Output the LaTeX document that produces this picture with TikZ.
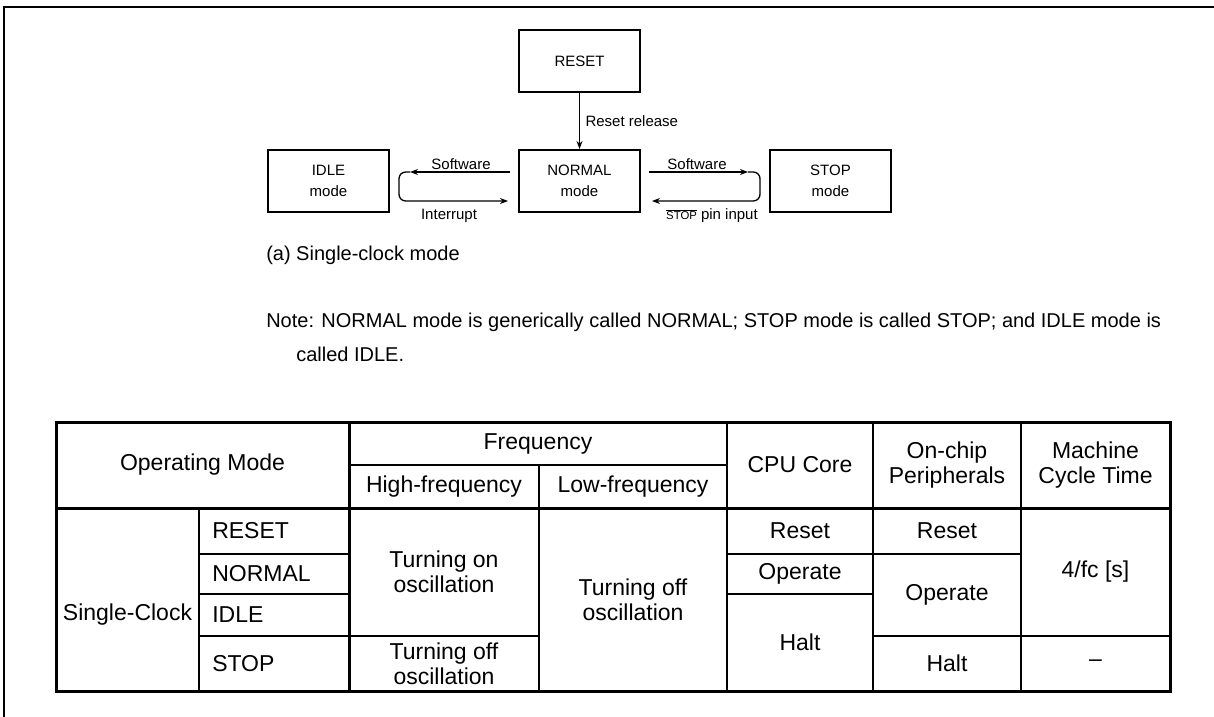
\documentclass[tikz,border=0pt]{standalone}
\usepackage{fontspec}
\setmainfont{Liberation Sans}
\usetikzlibrary{arrows.meta}
\begin{document}
\begin{tikzpicture}[x=0.75pt,y=-0.75pt,
  modebox/.style={draw,line width=1.5pt,minimum width=90.75pt,minimum height=46.5pt,inner sep=0pt,align=center,font=\fontsize{11.25}{15.4}\selectfont},
  lbl/.style={inner sep=0pt,font=\fontsize{11.25}{13}\selectfont},
  arr/.style={line width=1pt,-{Stealth[length=6pt,width=4.5pt]}},
  notetxt/.style={inner sep=0pt,anchor=west,font=\fontsize{15}{18}\selectfont},
  cell/.style={inner sep=0pt,align=center,font=\fontsize{17.25}{18.75}\selectfont},
  thin/.style={line width=0.9pt},
  thick/.style={line width=2.25pt}]
\useasboundingbox (0,0) rectangle (1214,717);
% frame
\draw[line width=1.5pt] (4,717) -- (4,7) -- (1214,7);
% diagram boxes
\node[modebox] (reset) at (579.5,61) {RESET};
\node[modebox] (normal) at (579.5,181) {NORMAL\\mode};
\node[modebox] (idle) at (328.5,181) {IDLE\\mode};
\node[modebox] (stop) at (830.5,181) {STOP\\mode};
% reset release
\draw[arr] (reset.south) -- (normal.north) node[lbl,pos=0.5,anchor=west,xshift=4pt] (rrel) {Reset release};
% left loop
\coordinate (la) at (510,172);
\coordinate (lb) at (410,172);
\coordinate (lc) at (399,172);
\coordinate (ld) at (399,201);
\coordinate (le) at (508,201);
\draw[arr] (la) -- (lb);
\draw[arr,rounded corners=5pt] (lb) -- (lc) -- (ld) -- (le);
\node[lbl] (sw1) at (461,164) {Software};
\node[lbl] (intr) at (449,216) {Interrupt};
% right loop
\coordinate (ra) at (649,172);
\coordinate (rb) at (748,172);
\coordinate (rc) at (760,172);
\coordinate (rd) at (760,201);
\coordinate (re) at (652,201);
\draw[arr] (ra) -- (rb);
\draw[arr,rounded corners=5pt] (rb) -- (rc) -- (rd) -- (re);
\node[lbl] (sw2) at (697,164) {Software};
\node[lbl] (stpin) at (712,216) {$\overline{\hbox{\fontsize{8.5}{10}\selectfont STOP}}$ pin input};
% notes
\node[notetxt] (cap) at (266,255) {(a) Single-clock mode};
\node[notetxt] (note1) at (266,322) {Note: NORMAL mode is generically called NORMAL; STOP mode is called STOP; and IDLE mode is};
\node[notetxt] (note2) at (296,354) {called IDLE.};
% table thin lines
\draw[thin] (349,465) -- (727,465);
\draw[thin] (539,465) -- (539,691);
\draw[thin] (727,422) -- (727,691);
\draw[thin] (873,422) -- (873,691);
\draw[thin] (1021,422) -- (1021,691);
\draw[thin] (199,508) -- (199,691);
\draw[thin] (199,554) -- (349,554);
\draw[thin] (727,554) -- (1021,554);
\draw[thin] (199,594) -- (349,594);
\draw[thin] (727,594) -- (873,594);
\draw[thin] (199,636) -- (539,636);
\draw[thin] (873,636) -- (1170,636);
% table thick lines
\draw[thick] (56,508) -- (1170,508);
\draw[thick] (349,422) -- (349,691);
\draw[thick] (56,422) rectangle (1170,691);
% header
\node[cell] (hop) at (202.5,465) {Operating Mode};
\node[cell] (hfr) at (538,443.5) {Frequency};
\node[cell] (hhf) at (444,486.5) {High-frequency};
\node[cell] (hlf) at (633,486.5) {Low-frequency};
\node[cell] (hcpu) at (800,465) {CPU Core};
\node[cell] (hper) at (947,465) {On-chip\\Peripherals};
\node[cell] (hmct) at (1095.5,465) {Machine\\Cycle Time};
% body
\node[cell] (sc) at (127.5,615) {Single-Clock};
\node[cell,anchor=west] (mr) at (212,531) {RESET};
\node[cell,anchor=west] (mn) at (212,574) {NORMAL};
\node[cell,anchor=west] (mi) at (212,615) {IDLE};
\node[cell,anchor=west] (ms) at (212,663.5) {STOP};
\node[cell] (hon) at (444,572) {Turning on\\oscillation};
\node[cell] (hoff) at (444,663.5) {Turning off\\oscillation};
\node[cell] (loff) at (633,599.5) {Turning off\\oscillation};
\node[cell] (cr) at (800,531) {Reset};
\node[cell] (co) at (800,574) {Operate};
\node[cell] (ch) at (800,642.5) {Halt};
\node[cell] (pr) at (947,531) {Reset};
\node[cell] (po) at (947,595) {Operate};
\node[cell] (ph) at (947,663.5) {Halt};
\node[cell] (mc) at (1095.5,572) {4/fc [s]};
\node[cell] (md) at (1095.5,663.5) {–};
\end{tikzpicture}
\end{document}
